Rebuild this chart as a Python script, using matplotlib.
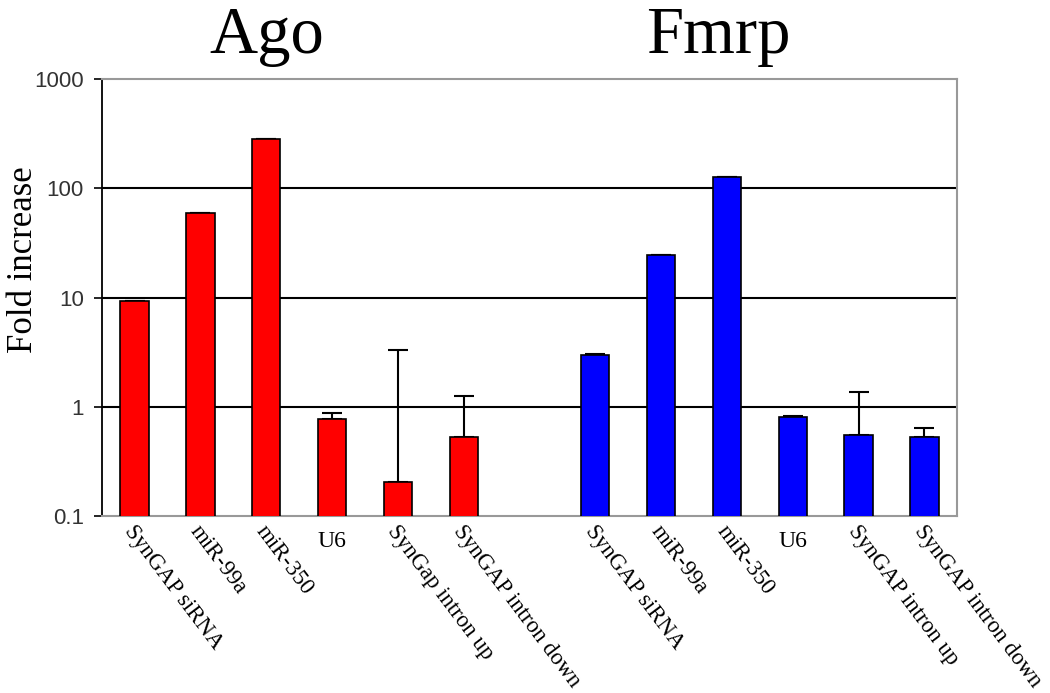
import matplotlib
matplotlib.use("Agg")
import matplotlib.pyplot as plt
import numpy as np

categories = ["SynGAP siRNA", "miR-99a", "miR-350", "U6", "SynGap intron up", "SynGAP intron down"]
categories_fmrp = ["SynGAP siRNA", "miR-99a", "miR-350", "U6", "SynGAP intron up", "SynGAP intron down"]
ago_values = [9.27, 59.6, 285, 0.777, 0.203, 0.531]
ago_err_top = [9.27, 59.6, 285, 0.868, 3.30, 1.25]
fmrp_values = [2.97, 24.6, 126, 0.805, 0.554, 0.531]
fmrp_err_top = [3.05, 24.6, 126, 0.827, 1.36, 0.642]
yticks = [0.1, 1, 10, 100, 1000]
ytick_labels = ["0.1", "1", "10", "100", "1000"]

fig = plt.figure(figsize=(10.5, 6.93), dpi=100)
ax = fig.add_axes([101.7/1050, 1-516/693, (957.3-101.7)/1050, (516-79)/693])

x_ago = np.arange(len(categories))
x_fmrp = np.arange(len(categories_fmrp)) + len(categories) + 1
w = 0.43

for xs, vals, tops, col in [(x_ago, ago_values, ago_err_top, "#ff0000"),
                            (x_fmrp, fmrp_values, fmrp_err_top, "#0000ff")]:
    vals = np.array(vals); tops = np.array(tops)
    up = tops - vals
    ax.errorbar(xs, vals, yerr=[np.zeros_like(up), up], fmt="none", ecolor="black",
                elinewidth=1.5, capsize=7, capthick=1.5, zorder=2)
    ax.bar(xs, vals, width=w, color=col, edgecolor="black", linewidth=1.2, zorder=3)

ax.set_yscale("log")
ax.set_ylim(0.1, 1000)
ax.set_xlim(-0.5, 12.5)
ax.set_yticks(yticks)
ax.set_yticklabels(ytick_labels, family="Liberation Sans", fontsize=16, color="#333333")
ax.yaxis.set_minor_locator(matplotlib.ticker.NullLocator())
ax.tick_params(axis="y", direction="out", length=6, width=1.2, color="black", pad=7)
ax.set_xticks([])
for yv in [1, 10, 100]:
    ax.axhline(yv, color="black", linewidth=1.5, zorder=1)

for s in ["top", "right", "bottom"]:
    ax.spines[s].set_color("#999999")
    ax.spines[s].set_linewidth(1.5)
ax.spines["left"].set_color("black")
ax.spines["left"].set_linewidth(1.3)

trans = matplotlib.transforms.blended_transform_factory(ax.transData, ax.transAxes)
for xs, labs in [(x_ago, categories), (x_fmrp, categories_fmrp)]:
    for xi, lab in zip(xs, labs):
        if lab == "U6":
            ax.text(xi, -0.035, lab, transform=trans, ha="center", va="top",
                    family="Liberation Serif", fontsize=17)
        else:
            ax.text(xi + 0.03, -0.012, lab, transform=trans, ha="left", va="top",
                    rotation=-53, rotation_mode="anchor",
                    family="Liberation Serif", fontsize=16.5)

fig.text(24/1050, 1-260/693, "Fold increase", rotation=90, ha="center", va="center",
         family="Liberation Serif", fontsize=25)
fig.text(267/1050, 1-53/693, "Ago", ha="center", va="baseline", family="Liberation Serif", fontsize=48)
fig.text(718/1050, 1-53/693, "Fmrp", ha="center", va="baseline", family="Liberation Serif", fontsize=48)

fig.savefig("out.png", dpi=100)
